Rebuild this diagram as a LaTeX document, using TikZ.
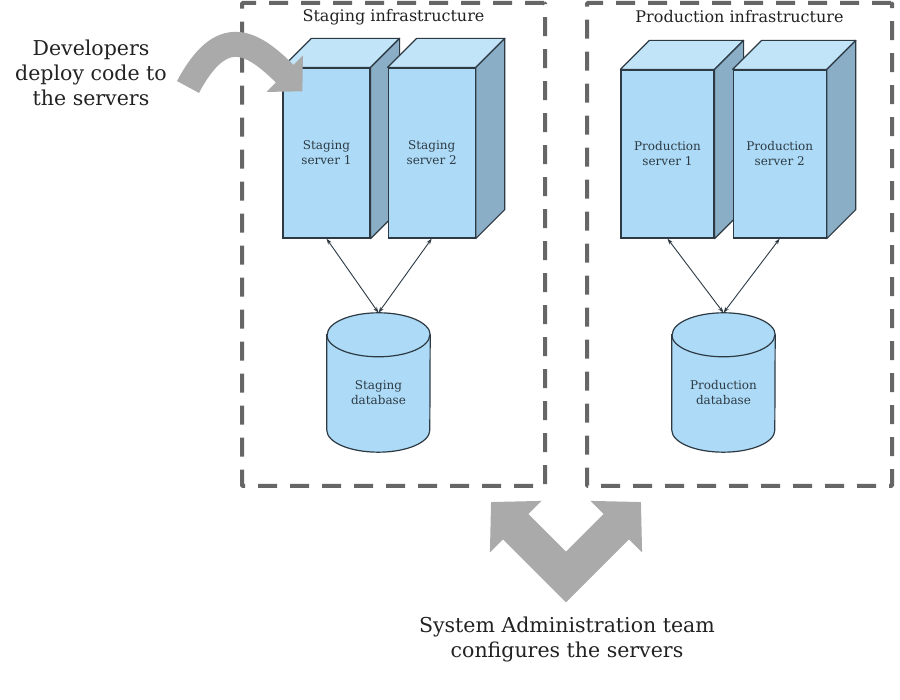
\documentclass[tikz,border=0pt]{standalone}
\usepackage{fontspec}
\setmainfont{DejaVu Serif}
\usepackage{xcolor}
\definecolor{cFront}{HTML}{ADDBF7}
\definecolor{cTop}{HTML}{C2E4F8}
\definecolor{cSide}{HTML}{89AEC6}
\definecolor{cEdge}{HTML}{2D3A44}
\definecolor{cDash}{HTML}{666666}
\definecolor{cArrow}{HTML}{AAAAAA}
\definecolor{cText}{HTML}{222222}
\usetikzlibrary{positioning,arrows.meta}
\tikzset{
  infra-box/.style={draw=cDash,line width=4pt,dash pattern=on 19pt off 13pt,
    rounded corners=1pt,minimum width=303pt,minimum height=483pt},
  infra-title/.style={font=\fontsize{16}{19}\selectfont,text=cText},
  server-front/.style={draw=cEdge,line width=1.2pt,fill=cFront,inner sep=0pt,
    minimum width=87pt,minimum height=170pt,align=center,text=cEdge,
    font=\fontsize{12}{15}\selectfont},
  server-top/.style={draw=cEdge,line width=1.2pt,fill=cTop,line join=round},
  server-side/.style={draw=cEdge,line width=1.2pt,fill=cSide,line join=round},
  db-body/.style={minimum width=103pt,minimum height=139pt,inner sep=0pt},
  db-shape/.style={draw=cEdge,line width=1.2pt,fill=cFront},
  db-label/.style={align=center,text=cEdge,font=\fontsize{12}{15}\selectfont},
  big-text/.style={align=center,text=cText,font=\fontsize{20.5}{25}\selectfont},
  link/.style={{Stealth[length=6pt,width=4pt]}-{Stealth[length=6pt,width=4pt]},
    line width=0.9pt,draw=cEdge},
  big-arrow/.style={draw=cArrow,line width=25pt,-{Triangle[length=25pt,width=50pt]}},
  big-arrow-both/.style={draw=cArrow,line width=36pt,line join=miter,
    {Triangle[length=35pt,width=71pt]}-{Triangle[length=35pt,width=71pt]}},
}
% top and side faces of a server box
\newcommand\serverdepth[1]{%
  \filldraw[server-top] (#1.north west) -- ++(29,29) -- ([shift={(29,29)}]#1.north east)
    -- (#1.north east) -- cycle;
  \filldraw[server-side] (#1.north east) -- ++(29,29) -- ([shift={(29,29)}]#1.south east)
    -- (#1.south east) -- cycle;}
% cylinder round a db-body node
\newcommand\database[1]{%
  \filldraw[db-shape] ([yshift=-22pt]#1.north west) -- ([yshift=22pt]#1.south west)
    arc[start angle=180,end angle=360,x radius=51.5pt,y radius=22pt]
    -- ([yshift=-22pt]#1.north east)
    arc[start angle=0,end angle=180,x radius=51.5pt,y radius=22pt] -- cycle;
  \draw[db-shape,fill=none] ([yshift=-22pt]#1.north west)
    arc[start angle=180,end angle=360,x radius=51.5pt,y radius=22pt];}

\begin{document}
\begin{tikzpicture}[x=1pt,y=1pt]
  \fill[white] (0,0) rectangle (900,700);
  \useasboundingbox (0,0) rectangle (900,700);
  % infrastructures
  \node[infra-box] (stg) at (393.5,455.5) {};
  \node[infra-box,minimum width=305pt] (prd) at (739.5,455.5) {};
  \node[infra-title] (stg-title) at ([yshift=-16pt]stg.north) {Staging infrastructure};
  \node[infra-title] (prd-title) at ([yshift=-16pt]prd.north) {Production infrastructure};
  % servers
  \node[server-front] (s1) at (326.5,547) {Staging\\server 1};
  \serverdepth{s1}
  \node[server-front,right=17pt of s1] (s2) {Staging\\server 2};
  \serverdepth{s2}
  \node[server-front,minimum width=93pt,minimum height=168pt] (p1) at (667.5,546) {Production\\server 1};
  \serverdepth{p1}
  \node[server-front,minimum width=93pt,minimum height=168pt,right=18pt of p1] (p2) {Production\\server 2};
  \serverdepth{p2}
  % databases
  \node[db-body] (sdb) at (378.5,317.5) {};
  \database{sdb}
  \node[db-label] (sdb-txt) at ([yshift=-10pt]sdb.center) {Staging\\database};
  \node[db-body] (pdb) at (723.5,317.5) {};
  \database{pdb}
  \node[db-label] (pdb-txt) at ([yshift=-10pt]pdb.center) {Production\\database};
  \draw[link] (s1.south) -- (sdb.north);
  \draw[link] (s2.south) -- (sdb.north);
  \draw[link] (p1.south) -- (pdb.north);
  \draw[link] (p2.south) -- (pdb.north);
  % developers
  \node[big-text] (dev) at (91,627) {Developers\\deploy code to\\the servers};
  \coordinate (dev-out) at (188,613);
  \draw[big-arrow] (dev-out) to[out=62,in=135,looseness=1.6] ([shift={(20,-24)}]s1.north west);
  % system administration
  \coordinate (v-left) at (491,198);
  \coordinate (v-bot) at (566,123);
  \coordinate (v-right) at (641,198);
  \draw[big-arrow-both] (v-left) -- (v-bot) -- (v-right);
  \node[big-text] (admin) at (567,61) {System Administration team\\configures the servers};
\end{tikzpicture}
\end{document}
